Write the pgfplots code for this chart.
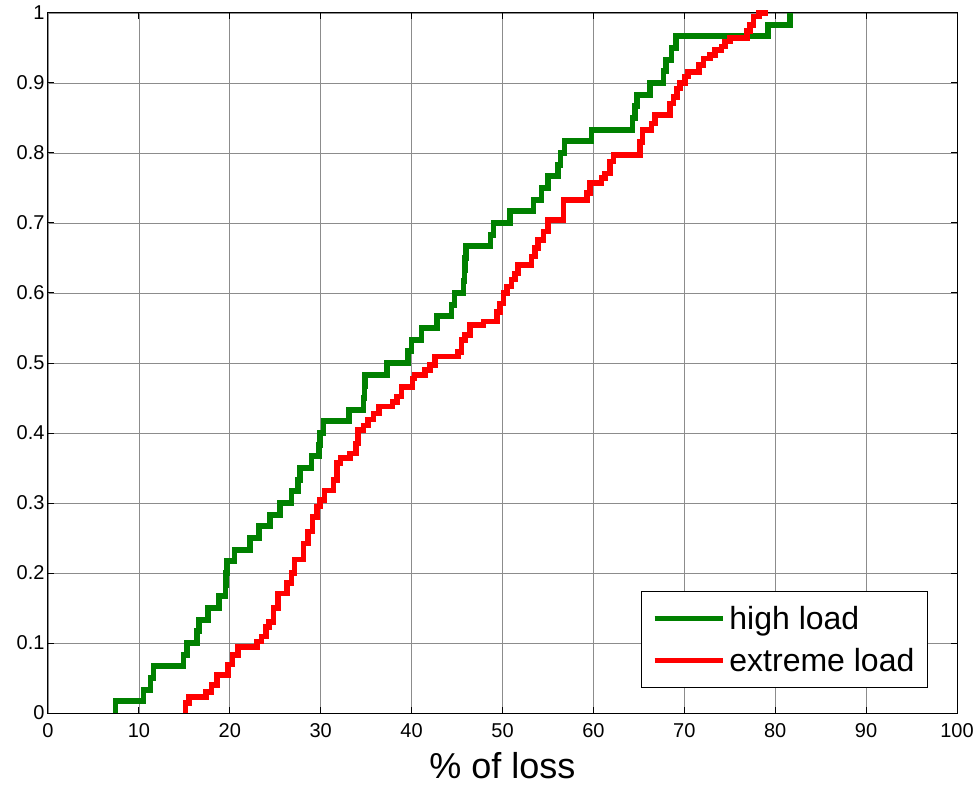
\documentclass[border=0pt]{standalone}
\usepackage{pgfplots}
\pgfplotsset{compat=1.18}
\usepackage{fontspec}
\setmainfont{Liberation Sans}
\definecolor{mgreen}{rgb}{0,0.5,0}
\definecolor{mred}{rgb}{1,0,0}
\begin{document}
\begin{tikzpicture}
\begin{axis}[
  at={(0pt,0pt)}, anchor=south west,
  scale only axis, width=909pt, height=700pt,
  xmin=0, xmax=100, ymin=0, ymax=1,
  xtick={0,10,20,30,40,50,60,70,80,90,100},
  ytick={0,0.1,0.2,0.3,0.4,0.5,0.6,0.7,0.8,0.9,1},
  yticklabels={0,0.1,0.2,0.3,0.4,0.5,0.6,0.7,0.8,0.9,1},
  grid=major, major grid style={black!45, line width=0.8pt},
  axis line style={black, line width=1pt},
  tick style={black, line width=1pt}, major tick length=6pt,
  tick align=inside, xtick pos=both, ytick pos=both,
  ticklabel style={font=\fontsize{20}{24}\selectfont},
  xticklabel style={yshift=-7pt},
  /pgf/number format/assume math mode=true,
  xlabel={\% of loss},
  xlabel style={font=\fontsize{36}{43}\selectfont, at={(axis description cs:0.5,0)}, anchor=base, yshift=-65pt},
  clip=false,
  legend cell align=left,
  legend style={at={(0.968,0.036)}, anchor=south east, draw=black, line width=1pt, fill=white,
    font=\fontsize{32}{38}\selectfont, inner xsep=11pt, inner ysep=12pt, row sep=14pt,
    nodes={inner sep=2pt}},
  legend image code/.code={\draw[#1, line width=5pt] (0pt,0pt) -- (68pt,0pt); \path (70pt,0pt);},
]
% high load
\addplot[const plot, mgreen, line width=5.5pt] coordinates {
(7.4,0) (7.4,0.017) (10.5,0.033) (11.3,0.050) (11.6,0.067) (14.9,0.083) (15.3,0.100)
(16.4,0.117) (16.6,0.133) (17.6,0.150) (18.8,0.167) (19.5,0.183) (19.6,0.200) (19.7,0.217)
(20.5,0.233) (22.2,0.250) (23.2,0.267) (24.4,0.283) (25.5,0.300) (26.8,0.317) (27.5,0.333)
(27.7,0.350) (29.0,0.367) (29.8,0.383) (29.9,0.400) (30.3,0.417) (33.1,0.433) (34.7,0.450)
(34.8,0.467) (34.9,0.483) (37.3,0.500) (39.6,0.517) (40.0,0.533) (41.1,0.550) (42.8,0.567)
(44.4,0.583) (44.7,0.600) (45.7,0.617) (45.8,0.633) (45.9,0.650) (46.0,0.667) (48.7,0.683)
(49.0,0.700) (50.8,0.717) (53.4,0.733) (54.3,0.750) (55.0,0.767) (56.1,0.783) (56.4,0.800)
(56.8,0.817) (59.8,0.833) (64.3,0.850) (64.6,0.867) (64.8,0.883) (66.2,0.900) (67.7,0.917)
(68.0,0.933) (68.6,0.950) (69.1,0.967) (79.2,0.983) (81.6,1.000)
};
\addlegendentry{high load}
% extreme load
\addplot[const plot, mred, line width=5.5pt] coordinates {
(15.1,0) (15.1,0.014) (15.5,0.023) (17.4,0.030) (18.0,0.040) (18.6,0.054) (19.8,0.069)
(20.3,0.083) (20.9,0.094) (23.0,0.102) (23.5,0.109) (24.0,0.123) (24.3,0.130) (24.8,0.150)
(25.3,0.171) (26.3,0.186) (26.8,0.200) (27.1,0.219) (28.1,0.242) (28.6,0.259) (29.1,0.280)
(29.6,0.295) (29.9,0.304) (30.4,0.318) (31.4,0.333) (31.8,0.357) (32.2,0.364) (33.2,0.371) (33.9,0.385)
(34.1,0.404) (34.7,0.411) (35.2,0.419) (35.8,0.428) (36.4,0.438) (37.9,0.444) (38.4,0.452)
(38.9,0.466) (40.1,0.478) (40.3,0.483) (41.5,0.490) (42.0,0.497) (42.6,0.509) (45.1,0.516)
(45.5,0.533) (45.9,0.540) (46.4,0.554) (47.9,0.559) (49.4,0.573) (49.7,0.585) (50.1,0.600)
(50.5,0.609) (51.0,0.619) (51.4,0.628) (51.7,0.640) (53.2,0.652) (53.6,0.664) (53.9,0.676)
(54.5,0.688) (55.0,0.704) (56.7,0.733) (59.3,0.743) (59.6,0.757) (60.9,0.764) (61.3,0.771)
(61.8,0.788) (62.2,0.797) (65.1,0.816) (65.4,0.833) (66.4,0.842) (66.8,0.854) (68.4,0.871)
(68.8,0.880) (69.2,0.892) (69.5,0.900) (70.1,0.909) (70.4,0.916) (71.6,0.926) (72.1,0.935)
(72.8,0.940) (73.4,0.947) (74.1,0.952) (74.5,0.959) (75.0,0.964) (76.9,0.974) (77.2,0.983)
(77.6,0.995) (78.2,1.000) (79.2,1.000)
};
\addlegendentry{extreme load}
\end{axis}
\pgfresetboundingbox
\path[use as bounding box] (-48pt,-72pt) rectangle (925pt,713pt);
\end{tikzpicture}
\end{document}
